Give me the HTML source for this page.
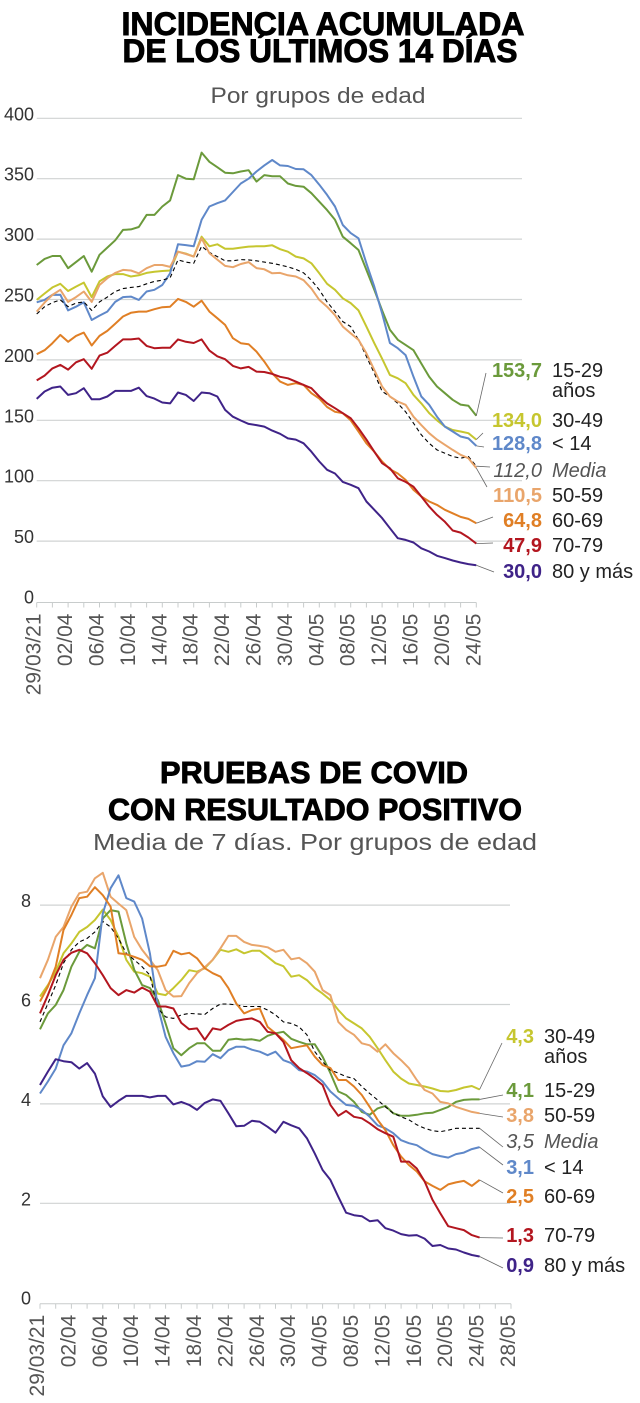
<!DOCTYPE html>
<html><head><meta charset="utf-8">
<style>
html,body{margin:0;padding:0;background:#fff;}
svg{display:block;font-family:"Liberation Sans",sans-serif;}
</style></head>
<body>
<svg id="svg" width="640" height="1403" viewBox="0 0 640 1403" xmlns="http://www.w3.org/2000/svg">
<g stroke="#000" stroke-width="0.9">
<text x="323" y="35" text-anchor="middle" font-size="32" font-weight="bold" fill="#000" textLength="403" lengthAdjust="spacingAndGlyphs">INCIDENCIA ACUMULADA</text>
<text x="320" y="62" text-anchor="middle" font-size="32" font-weight="bold" fill="#000" textLength="395" lengthAdjust="spacingAndGlyphs">DE LOS ÚLTIMOS 14 DÍAS</text>
</g>
<text x="318" y="103" text-anchor="middle" font-size="22" fill="#555" textLength="215" lengthAdjust="spacingAndGlyphs">Por grupos de edad</text>
<g stroke="#000" stroke-width="0.9">
<text x="314" y="783" text-anchor="middle" font-size="31" font-weight="bold" fill="#000" textLength="308" lengthAdjust="spacingAndGlyphs">PRUEBAS DE COVID</text>
<text x="315" y="820" text-anchor="middle" font-size="31" font-weight="bold" fill="#000" textLength="414" lengthAdjust="spacingAndGlyphs">CON RESULTADO POSITIVO</text>
</g>
<text x="315" y="850" text-anchor="middle" font-size="23" fill="#555" textLength="444" lengthAdjust="spacingAndGlyphs">Media de 7 días. Por grupos de edad</text>
<g id="c1"></g>
<g id="c2"></g>
</svg>
<script>
// ---- Chart 1 data: cumulative 14-day incidence ----
const c1Dates = ["29/03/21","02/04","06/04","10/04","14/04","18/04","22/04","26/04","30/04","04/05","08/05","12/05","16/05","20/05","24/05"];
const c1Ticks = [0,50,100,150,200,250,300,350,400];
const c1Green = [278.6,283.6,286,286,275.9,281,286,273,287,293,299,307.6,308,310,320,320,327,332,353,350,349.5,371.6,364,359.5,355,354.5,356,357,347.6,353,352,352,346,344,343.4,338,331,324,316,302,296.6,291,274.5,258,241,225,216.6,212.4,208,197,186,178,172.4,167,163,162,153.7];
const c1Blue = [247.7,249.7,253.8,254,241,244,247.7,233,236.7,240,248,252,252.4,249.7,256.6,258,262,271.7,295.7,295,294,316,327,329.7,332,339,346,350,356,361,365.5,361,360.5,358,357.8,353,345,336.6,327,311.7,305,300.7,280,260.7,238.6,214,209.7,204,186,169.7,162.8,153,144.8,140.7,136.6,135,128.8];
const c1Yellow = [249.7,255,260,263,257,260.7,264,252,265,269,271,271,269,270,272,273,273.6,274,289.6,288,285.5,302,294,295.7,292,292,293,293.8,294,294,294.9,291.6,289.6,285.5,284,280,271.7,263,258,251,247,241,227.6,213.8,201,187.6,184.8,180.7,171,164,156,150,144.8,142,140.7,139.3,134];
const c1LightOrange = [240,247.4,253.8,258,248,252,256.6,248,262,267.6,272,274.5,274,271.7,275.9,278.6,278.6,277,289.6,287.7,285.5,300.7,288.3,283,277.8,276.7,279.4,281,276,275,271.7,272,270,269,266,259,249.7,244,237,227.6,222,216.6,205.5,191.7,178,169.7,165.5,162.8,153,146,139.3,134,129.7,125.5,121.4,118.6,110.5];
const c1Media = [238,244,247.4,249.7,244,247,248,241,248,252,256.6,259,260,260.7,263,265,266,268,282.8,281,280,294,289,285.5,282,282,283,282.8,282,281,280,278.6,277,275,272,266,258,248,240,231.7,227.6,216.6,202.8,189,174,169.7,164,157,147.6,138,131,125.5,122.8,120,118.6,120,112];
const c1Orange = [204.7,208,213.8,220.7,215,219.9,222.6,211.9,219.9,224,230,235.9,239,240,240,242,243.6,244,250.5,248,244,249,240,234.5,229,218,213.8,213,206.9,198.6,189,182,179.3,180.7,179.3,172.4,168,161,157,155.9,150,140.7,131,124,115.9,109.5,106,100.7,92.4,86.9,82.8,80,75.9,73,70,68.4,64.8];
const c1Red = [183,187,193,195.9,192,198,200.6,192.6,203.6,206,211.6,217,217,217.7,211.6,209.7,210,210,217,215,214,217,207.7,203,200.6,195,193,194.2,190.3,190,188.4,186,184.8,182,179.3,176.6,169.7,164,160,155.9,151.7,143.4,134,124,114.5,110.3,102,99,95,86.9,78.6,71.7,66,58.8,57,53,47.9];
const c1Purple = [167.7,173.8,177,178,171,172.4,176.6,167.4,167.4,169.7,174.3,174.3,174.3,177,170,168,164.7,164,173,171,166,173,172.4,169.7,158.6,153,149.8,147,146,144.8,141.5,138.8,135,134,131,124,115.9,109,106,99,96.6,93.8,82.8,75.9,69,60.7,52.4,51,48.8,44,41.4,37.8,35.9,33.9,32.3,31,30];
const c1Values = ["153,7","134,0","128,8","112,0","110,5","64,8","47,9","30,0"];

// ---- Chart 2 data: positivity, 7-day average ----
const c2Dates = ["29/03/21","02/04","06/04","10/04","14/04","18/04","22/04","26/04","30/04","04/05","08/05","12/05","16/05","20/05","24/05","28/05"];
const c2Ticks = [0,2,4,6,8];
const c2Blue = [4.21,4.45,4.71,5.18,5.42,5.82,6.19,6.53,7.83,8.34,8.6,8.14,8.07,7.73,7.03,5.96,5.35,5.02,4.75,4.78,4.86,4.85,5.0,4.92,5.08,5.15,5.15,5.09,5.05,4.98,5.05,4.88,4.82,4.68,4.65,4.58,4.45,4.25,4.11,3.98,3.96,3.88,3.74,3.57,3.51,3.41,3.27,3.21,3.17,3.07,2.99,2.95,2.92,2.99,3.02,3.09,3.13];
const c2Green = [5.5,5.82,5.99,6.29,6.76,7.06,7.2,7.13,7.73,7.9,7.87,7.23,6.7,6.39,6.33,6.09,5.62,5.12,4.98,5.12,5.22,5.22,5.07,5.07,5.29,5.31,5.29,5.3,5.27,5.37,5.42,5.45,5.31,5.25,5.2,5.2,4.95,4.62,4.25,4.18,4.04,3.84,3.78,3.91,3.96,3.81,3.76,3.76,3.78,3.81,3.82,3.88,3.94,4.04,4.08,4.09,4.09];
const c2Yellow = [6.16,6.39,6.66,7.03,7.23,7.46,7.56,7.7,7.91,7.7,7.36,6.9,6.66,6.63,6.56,6.22,6.19,6.33,6.49,6.69,6.66,6.73,6.9,7.1,7.06,7.11,7.03,7.08,7.08,6.96,6.83,6.77,6.56,6.59,6.49,6.33,6.22,6.09,5.89,5.72,5.62,5.52,5.35,5.12,4.88,4.65,4.51,4.41,4.38,4.35,4.31,4.26,4.25,4.28,4.33,4.36,4.29];
const c2LightOrange = [6.53,6.9,7.36,7.56,7.97,8.24,8.27,8.54,8.65,8.17,8.03,7.9,7.36,7.1,6.9,6.69,6.29,6.16,6.17,6.43,6.63,6.75,6.9,7.13,7.38,7.38,7.26,7.2,7.18,7.15,7.06,7.1,6.91,6.94,6.83,6.66,6.29,6.19,5.65,5.49,5.39,5.22,5.18,5.05,5.2,5.02,4.88,4.72,4.48,4.28,4.21,4.04,4.01,3.94,3.89,3.84,3.81];
const c2Orange = [6.06,6.36,6.76,7.5,7.8,8.14,8.17,8.36,8.2,7.97,7.03,7.01,6.96,6.9,6.77,6.76,6.79,7.08,7.01,7.04,6.93,6.73,6.63,6.56,6.33,6.02,5.82,5.89,5.92,5.55,5.42,5.29,5.12,5.15,5.18,4.95,4.78,4.72,4.48,4.48,4.35,4.18,3.94,3.68,3.47,3.17,2.94,2.77,2.64,2.44,2.35,2.27,2.38,2.42,2.45,2.35,2.47];
const c2Red = [5.82,6.19,6.59,6.9,7.04,7.1,7.03,6.83,6.59,6.33,6.19,6.29,6.24,6.34,6.26,5.96,5.96,5.92,5.63,5.5,5.52,5.29,5.52,5.49,5.59,5.67,5.7,5.72,5.65,5.45,5.42,5.25,4.88,4.72,4.62,4.51,4.38,3.98,3.76,3.86,3.74,3.71,3.61,3.49,3.41,3.34,2.84,2.84,2.7,2.44,2.07,1.8,1.54,1.5,1.46,1.36,1.31];
const c2Purple = [4.38,4.65,4.9,4.86,4.84,4.71,4.82,4.61,4.15,3.94,4.06,4.16,4.16,4.16,4.13,4.16,4.16,3.99,4.04,3.98,3.88,4.02,4.09,4.06,3.81,3.55,3.56,3.66,3.64,3.54,3.42,3.64,3.57,3.51,3.31,3.0,2.67,2.47,2.13,1.81,1.76,1.74,1.64,1.66,1.5,1.45,1.38,1.35,1.36,1.29,1.14,1.16,1.09,1.07,1.01,0.96,0.93];
const c2Media = [5.65,6.02,6.39,6.83,7.1,7.26,7.33,7.46,7.67,7.56,7.33,7.03,6.9,6.76,6.59,5.92,5.75,5.72,5.79,5.82,5.81,5.8,5.92,6.01,6.01,5.99,5.96,5.96,5.96,5.89,5.79,5.65,5.62,5.55,5.39,5.05,4.85,4.68,4.62,4.55,4.51,4.35,4.21,4.08,3.94,3.81,3.74,3.68,3.58,3.51,3.46,3.44,3.47,3.51,3.51,3.51,3.51];
const c2Values = ["4,3","4,1","3,8","3,5","3,1","2,5","1,3","0,9"];

const NS = "http://www.w3.org/2000/svg";
function mk(tag, attrs, parent, txt){
  const e = document.createElementNS(NS, tag);
  for (const k in attrs) e.setAttribute(k, attrs[k]);
  if (txt !== undefined) e.textContent = txt;
  parent.appendChild(e);
  return e;
}
const COL = {green:"#6b9a3b", blue:"#5f88c9", yellow:"#c6c62f", lorange:"#e9a56b", orange:"#e07f25", red:"#b3161f", purple:"#3f2388", media:"#000"};

function drawChart(g, cfg){
  const X = i => cfg.x0 + cfg.dx * i;
  const Y = v => cfg.y0 - v * cfg.ky;
  cfg.ticks.forEach(t => {
    if (t > 0) {
      const gl = mk("line", {x1:cfg.x0, x2:cfg.gridEnd, y1:Y(t), y2:Y(t), stroke:"#d0d3d3", "stroke-width":1.2}, g);
      
      
    }
    const tl = mk("text", {x:cfg.ylabX, y:Y(t)+2, "text-anchor":"end", "font-size":18, fill:"#333"}, g, String(t));
    
    
  });
  const ax = mk("line", {x1:cfg.x0, x2:X(cfg.nTicks), y1:cfg.y0+1, y2:cfg.y0+1, stroke:"#c8cccc", "stroke-width":1}, g);
  
  
  for (let i = 0; i <= cfg.nTicks; i += 2) {
    const tk = mk("line", {x1:X(i), x2:X(i), y1:cfg.y0+1, y2:cfg.y0+6, stroke:"#c8cccc", "stroke-width":1}, g);
    
    
  }
  cfg.dates.forEach((d, k) => {
    const x = X(k*4) + 4;
    const t = mk("text", {transform:"translate("+x+","+(cfg.y0+12)+") rotate(-90)", "text-anchor":"end", "font-size":21, fill:"#555"}, g, d);
    
    
  });
  cfg.series.forEach(s => {
    const pts = s.data.map((v,i) => X(i).toFixed(1)+","+Y(v).toFixed(1)).join(" ");
    const attrs = {points:pts, fill:"none", stroke:COL[s.c], "stroke-width": s.c==="media"?1.1:2, "stroke-linejoin":"round"};
    if (s.c === "media") attrs["stroke-dasharray"] = "4,3";
    const pl = mk("polyline", attrs, g);
    
    
  });
  cfg.series.forEach((s, k) => {
    const n = s.data.length - 1;
    const L = cfg.labels[k];
    const ld = mk("line", {x1:X(n), y1:Y(s.data[n]), x2:L.lx, y2:L.ly, stroke:"#666", "stroke-width":0.8}, g);
    
    
    const isM = s.c === "media";
    const vt = mk("text", {x:cfg.valX, y:L.y, "text-anchor":"end", "font-size":20, "font-weight":isM?"normal":"bold", "font-style":isM?"italic":"normal", fill:isM?"#555":COL[s.c]}, g, cfg.values[k]);
    
    
    const nt = mk("text", {x:cfg.valX+10, y:L.y, "font-size":20, "font-style":isM?"italic":"normal", fill:isM?"#555":"#222"}, g, s.label);
    
    
    if (s.sub) {
      const st = mk("text", {x:cfg.valX+10, y:L.y+20, "font-size":20, fill:"#222"}, g, s.sub);
      
      
    }
  });
}

drawChart(document.getElementById("c1"), {
  x0:36.7, dx:7.85, y0:601.5, ky:1.208, gridEnd:522, ylabX:34, nTicks:56,
  ticks:c1Ticks, dates:c1Dates, valX:542, values:c1Values,
  series:[
    {name:"80", c:"purple", data:c1Purple, label:"80 y más"},
    {name:"70-79", c:"red", data:c1Red, label:"70-79"},
    {name:"60-69", c:"orange", data:c1Orange, label:"60-69"},
    {name:"50-59", c:"lorange", data:c1LightOrange, label:"50-59"},
    {name:"media", c:"media", data:c1Media, label:"Media"},
    {name:"lt14", c:"blue", data:c1Blue, label:"< 14"},
    {name:"30-49", c:"yellow", data:c1Yellow, label:"30-49"},
    {name:"15-29", c:"green", data:c1Green, label:"15-29", sub:"años"}
  ].reverse(),
  labels:[
    {y:377, lx:486, ly:373},
    {y:427, lx:483, ly:433},
    {y:450, lx:484, ly:447},
    {y:477, lx:490, ly:467},
    {y:502, lx:487, ly:487},
    {y:527, lx:493, ly:517},
    {y:552, lx:493, ly:543},
    {y:578, lx:494, ly:572}
  ]
});

drawChart(document.getElementById("c2"), {
  x0:40, dx:7.85, y0:1302.7, ky:49.7, gridEnd:510, ylabX:31, nTicks:60,
  ticks:c2Ticks, dates:c2Dates, valX:534, values:c2Values,
  series:[
    {name:"30-49", c:"yellow", data:c2Yellow, label:"30-49", sub:"años"},
    {name:"15-29", c:"green", data:c2Green, label:"15-29"},
    {name:"50-59", c:"lorange", data:c2LightOrange, label:"50-59"},
    {name:"media", c:"media", data:c2Media, label:"Media"},
    {name:"lt14", c:"blue", data:c2Blue, label:"< 14"},
    {name:"60-69", c:"orange", data:c2Orange, label:"60-69"},
    {name:"70-79", c:"red", data:c2Red, label:"70-79"},
    {name:"80", c:"purple", data:c2Purple, label:"80 y más"}
  ],
  labels:[
    {y:1043, lx:502, ly:1043},
    {y:1097, lx:503, ly:1095},
    {y:1122, lx:503, ly:1117},
    {y:1148, lx:503, ly:1147},
    {y:1174, lx:503, ly:1165},
    {y:1203, lx:503, ly:1193},
    {y:1242, lx:503, ly:1238},
    {y:1272, lx:503, ly:1268}
  ]
});
</script>
</body></html>
